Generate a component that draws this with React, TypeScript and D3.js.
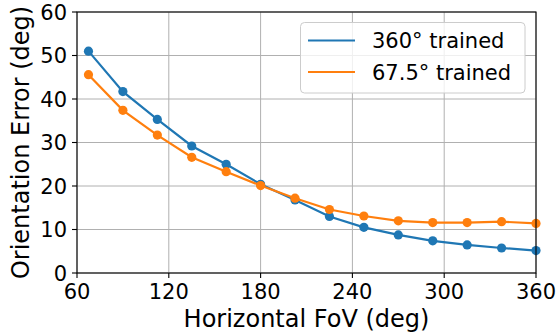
import React from "react";
import * as d3 from "d3";

const fov = [67.5, 90, 112.5, 135, 157.5, 180, 202.5, 225, 247.5, 270, 292.5, 315, 337.5, 360];
const err360 = [51.0, 41.7, 35.3, 29.2, 25.0, 20.4, 16.8, 13.0, 10.5, 8.75, 7.4, 6.45, 5.75, 5.15];
const err675 = [45.6, 37.4, 31.7, 26.6, 23.3, 20.1, 17.2, 14.6, 13.1, 12.0, 11.6, 11.6, 11.8, 11.4];
const xTicks = [60, 120, 180, 240, 300, 360];
const yTicks = [0, 10, 20, 30, 40, 50, 60];
const seriesNames = ["360° trained", "67.5° trained"];
const colors = ["#1f77b4", "#ff7f0e"];

const W = 558, H = 333;
const L = 77, R = 536, T = 12, B = 273;
const FONT = "DejaVu Sans, sans-serif";

export default function App() {
  const x = d3.scaleLinear().domain([60, 360]).range([L, R]);
  const y = d3.scaleLinear().domain([0, 60]).range([B, T]);
  const line = d3.line<[number, number]>().x(d => x(d[0])).y(d => y(d[1]));
  const series = [err360, err675].map(vals => fov.map((f, i) => [f, vals[i]] as [number, number]));

  return (
    <svg width={W} height={H} style={{ position: "absolute", left: 0, top: 0 }} fontFamily={FONT}>
      <rect width={W} height={H} fill="white" />
      <g>
        {xTicks.map(t => (
          <line key={"gx" + t} x1={x(t)} x2={x(t)} y1={T} y2={B} stroke="#b0b0b0" strokeWidth={1} />
        ))}
        {yTicks.map(t => (
          <line key={"gy" + t} x1={L} x2={R} y1={y(t)} y2={y(t)} stroke="#b0b0b0" strokeWidth={1} />
        ))}
      </g>
      <defs>
        <clipPath id="clip">
          <rect x={L - 8} y={T - 8} width={R - L + 16} height={B - T + 16} />
        </clipPath>
      </defs>
      {series.map((s, k) => (
        <g key={k}>
          <path d={line(s) || ""} fill="none" stroke={colors[k]} strokeWidth={2.2} />
          {s.map((d, i) => (
            <circle key={i} cx={x(d[0])} cy={y(d[1])} r={4.6} fill={colors[k]} />
          ))}
        </g>
      ))}
      <rect x={L} y={T} width={R - L} height={B - T} fill="none" stroke="black" strokeWidth={1.1} />
      {xTicks.map(t => (
        <g key={"xt" + t}>
          <line x1={x(t)} x2={x(t)} y1={B} y2={B + 5} stroke="black" strokeWidth={1.1} />
          <text x={x(t)} y={299} textAnchor="middle" fontSize={21} fill="black">{t}</text>
        </g>
      ))}
      {yTicks.map(t => (
        <g key={"yt" + t}>
          <line x1={L - 5} x2={L} y1={y(t)} y2={y(t)} stroke="black" strokeWidth={1.1} />
          <text x={67} y={y(t)} dy="0.36em" textAnchor="end" fontSize={21} fill="black">{t}</text>
        </g>
      ))}
      <text x={(L + R) / 2} y={327} textAnchor="middle" fontSize={24} fill="black">Horizontal FoV (deg)</text>
      <text transform={`translate(29,${(T + B) / 2}) rotate(-90)`} textAnchor="middle" fontSize={24} fill="black">Orientation Error (deg)</text>
      <g>
        <rect x={300.5} y={22.5} width={224.5} height={70.5} rx={4} fill="white" fillOpacity={0.8} stroke="#cccccc" strokeWidth={1} />
        {seriesNames.map((n, k) => (
          <g key={n}>
            <line x1={308} x2={355} y1={40.5 + k * 31.5} y2={40.5 + k * 31.5} stroke={colors[k]} strokeWidth={2.2} />
            <text x={372} y={40.5 + k * 31.5} dy="0.36em" fontSize={21} fill="black">{n}</text>
          </g>
        ))}
      </g>
    </svg>
  );
}
